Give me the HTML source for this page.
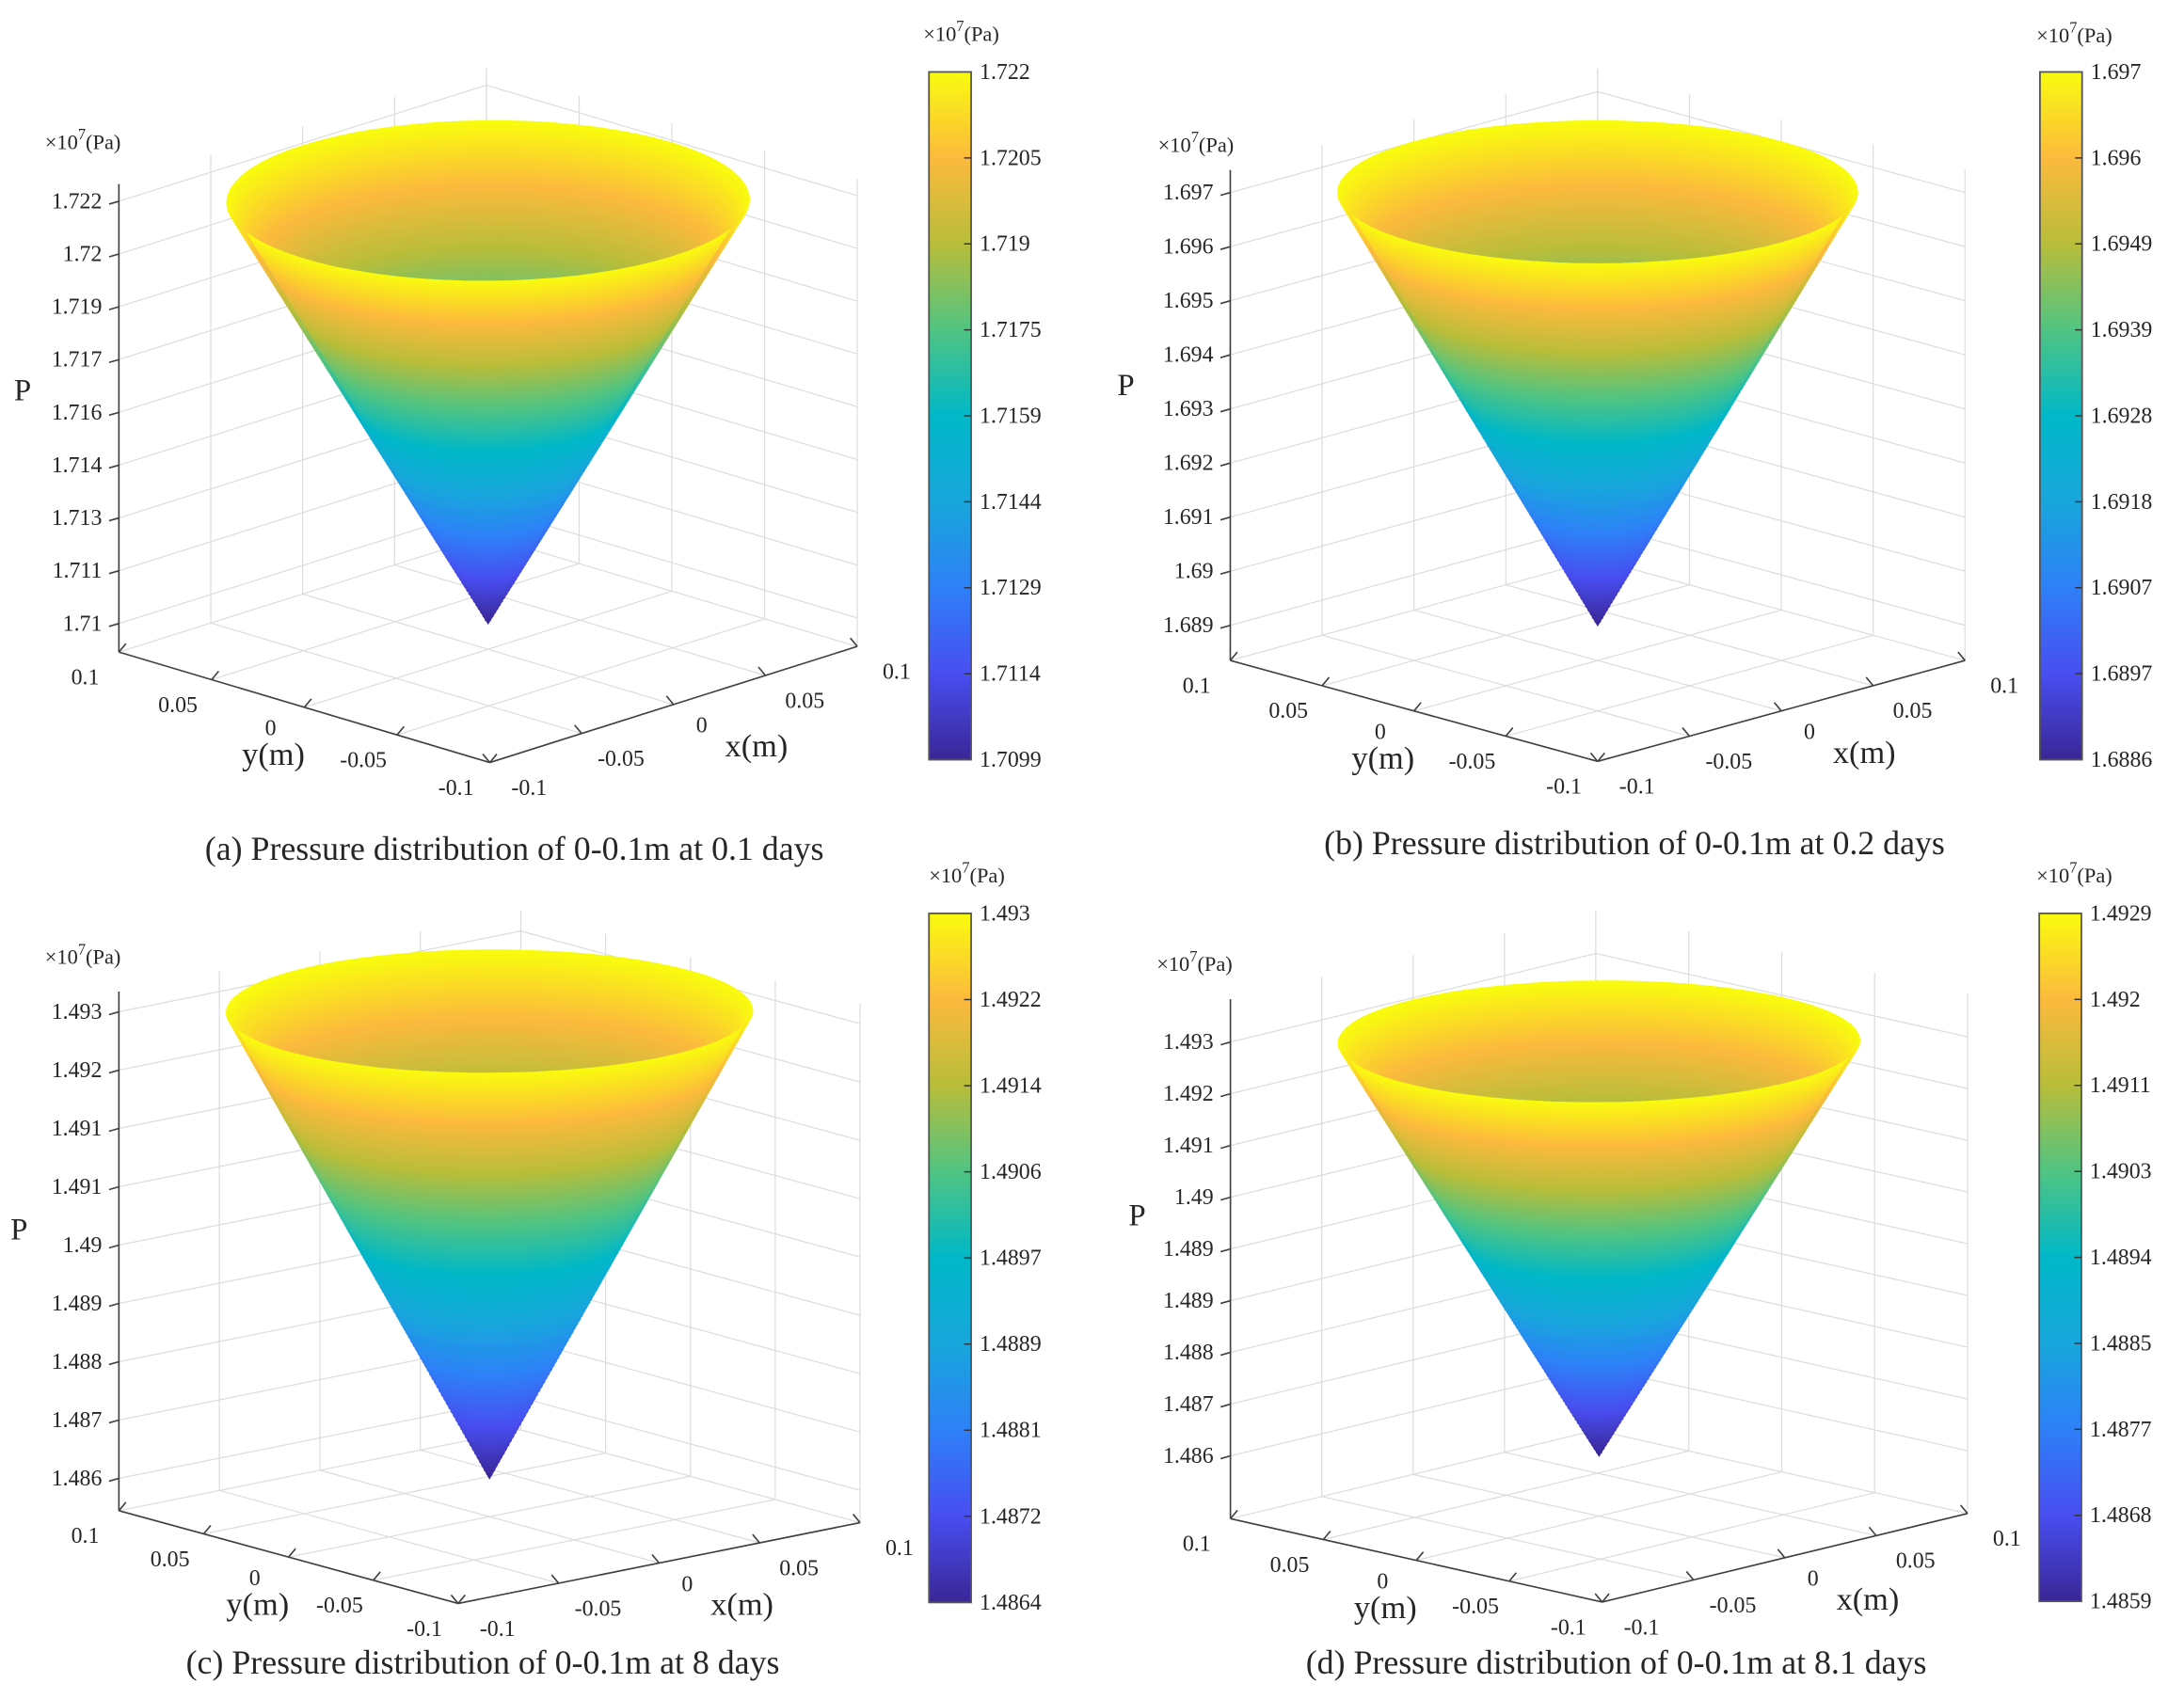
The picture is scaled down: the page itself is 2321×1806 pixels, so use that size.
<!DOCTYPE html>
<html>
<head>
<meta charset="utf-8">
<style>
html,body{margin:0;padding:0;background:#fff;}
svg{display:block;}
text{font-family:"Liberation Serif","Times New Roman",serif;fill:#262626;}
</style>
</head>
<body>
<svg id="fig" xmlns="http://www.w3.org/2000/svg" width="2321" height="1806" viewBox="0 0 1554 1209" preserveAspectRatio="none" font-family="Liberation Serif, serif"></svg>
<script>
// ---- data ----
const panelIds = ["a", "b", "c", "d"];
const captions = [
  "(a) Pressure distribution of 0-0.1m at 0.1 days",
  "(b) Pressure distribution of 0-0.1m at 0.2 days",
  "(c) Pressure distribution of 0-0.1m at 8 days",
  "(d) Pressure distribution of 0-0.1m at 8.1 days"
];
const pMaxA = 1.7220, pMinA = 1.7099;
const pMaxB = 1.6970, pMinB = 1.6886;
const pMaxC = 1.4930, pMinC = 1.4864;
const pMaxD = 1.4929, pMinD = 1.4859;
const zTickLabelsA = ["1.722","1.72","1.719","1.717","1.716","1.714","1.713","1.711","1.71"];
const zTickLabelsB = ["1.697","1.696","1.695","1.694","1.693","1.692","1.691","1.69","1.689"];
const zTickLabelsC = ["1.493","1.492","1.491","1.491","1.49","1.489","1.488","1.487","1.486"];
const zTickLabelsD = ["1.493","1.492","1.491","1.49","1.489","1.489","1.488","1.487","1.486"];
const cbTickLabelsA = ["1.722","1.7205","1.719","1.7175","1.7159","1.7144","1.7129","1.7114","1.7099"];
const cbTickLabelsB = ["1.697","1.696","1.6949","1.6939","1.6928","1.6918","1.6907","1.6897","1.6886"];
const cbTickLabelsC = ["1.493","1.4922","1.4914","1.4906","1.4897","1.4889","1.4881","1.4872","1.4864"];
const cbTickLabelsD = ["1.4929","1.492","1.4911","1.4903","1.4894","1.4885","1.4877","1.4868","1.4859"];
const xyTickValues = [-0.1, -0.05, 0, 0.05, 0.1];
const xyTickLabels = ["-0.1","-0.05","0","0.05","0.1"];
const coneRadius = 0.1;
const parulaStops = [
  [0.000,[58,38,150]],[0.125,[72,78,240]],[0.250,[46,128,248]],[0.375,[24,166,220]],
  [0.500,[0,184,200]],[0.625,[80,196,130]],[0.750,[184,189,58]],[0.875,[252,186,61]],[1.000,[249,251,14]]
];

// ---- layout (pixel geometry, not data) ----
const layout = [
  {L:[84.6,464],F:[348.5,542.6],R:[610,460],tTop:143.2,tBot:443.7,axTop:131,cbX:661,cbTop:51.2,cbBot:540.6,unitXY:[32,106],cbUnitXY:[657,29],pXY:[10,285],capX:366,capY:612},
  {L:[875.4,470],F:[1136.8,541.8],R:[1398.2,470],tTop:137,tBot:445,axTop:121,cbX:1451.5,cbTop:51.2,cbBot:540.6,unitXY:[824,108],cbUnitXY:[1449,30],pXY:[795,281],capX:1163,capY:608},
  {L:[84.6,1075],F:[326,1141],R:[612,1083.5],tTop:720,tBot:1052,axTop:705.6,cbX:661,cbTop:650,cbBot:1140.3,unitXY:[32,686],cbUnitXY:[661,628],pXY:[7.5,882],capX:343.5,capY:1191},
  {L:[875.5,1080.7],F:[1140,1140],R:[1400,1077],tTop:741.5,tBot:1036,axTop:711,cbX:1451,cbTop:650,cbBot:1139.5,unitXY:[823,691],cbUnitXY:[1449,628],pXY:[803,872],capX:1150,capY:1191}
];
const pMax = [pMaxA,pMaxB,pMaxC,pMaxD];
const pMin = [pMinA,pMinB,pMinC,pMinD];
const zLabels = [zTickLabelsA,zTickLabelsB,zTickLabelsC,zTickLabelsD];
const cbLabels = [cbTickLabelsA,cbTickLabelsB,cbTickLabelsC,cbTickLabelsD];

const NS = "http://www.w3.org/2000/svg";
const svg = document.getElementById("fig");
function mk(tag, attrs, parent){
  const e = document.createElementNS(NS, tag);
  for (const k in attrs) e.setAttribute(k, attrs[k]);
  (parent||svg).appendChild(e);
  return e;
}
function parula(f){
  f = Math.max(0, Math.min(1, f));
  for (let i=1;i<parulaStops.length;i++){
    const a=parulaStops[i-1], b=parulaStops[i];
    if (f<=b[0]){
      const t=(f-a[0])/(b[0]-a[0]);
      const c=a[1].map((v,j)=>Math.round(v+(b[1][j]-v)*t));
      return "rgb("+c.join(",")+")";
    }
  }
  return "rgb(249,251,14)";
}
const gridCol = "#dcdcdc", axisCol = "#404040";

panelIds.forEach((pid, pi) => {
  const g = layout[pi];
  const grp = mk("g", {});
  
  
  const lo = pMin[pi], hi = pMax[pi];
  const zToY = z => g.tBot + (z - lo) / (hi - lo) * (g.tTop - g.tBot);
  const floorY = g.L[1];
  const H = floorY - g.axTop;
  const ux = [(g.R[0]-g.F[0])/2, (g.R[1]-g.F[1])/2];
  const uy = [(g.L[0]-g.F[0])/2, (g.L[1]-g.F[1])/2];
  const C = [(g.L[0]+g.R[0])/2, (g.L[1]+g.R[1])/2];
  const proj = (x, y, dz) => [C[0] + x/0.1*ux[0] + y/0.1*uy[0], C[1] + x/0.1*ux[1] + y/0.1*uy[1] - dz];
  // cone levels are anchored at the floor centre, raised by z
  const projCone = (x, y, z) => { const p = proj(x, y, 0); return [p[0], p[1] - (C[1] - zToY(z))]; };

  // grid
  const gridG = mk("g", {stroke:gridCol, "stroke-width":0.8, fill:"none"}, grp);
  
  
  xyTickValues.forEach(v => {
    const a = proj(v, -0.1, 0), b = proj(v, 0.1, 0);
    const l1 = mk("line", {x1:a[0],y1:a[1],x2:b[0],y2:b[1]}, gridG);
    
    
    const c = proj(-0.1, v, 0), d = proj(0.1, v, 0);
    const l2 = mk("line", {x1:c[0],y1:c[1],x2:d[0],y2:d[1]}, gridG);
    
    
    const e = proj(v, 0.1, 0), f = proj(v, 0.1, H);
    const l3 = mk("line", {x1:e[0],y1:e[1],x2:f[0],y2:f[1]}, gridG);
    
    
    const h1 = proj(0.1, v, 0), h2 = proj(0.1, v, H);
    const l4 = mk("line", {x1:h1[0],y1:h1[1],x2:h2[0],y2:h2[1]}, gridG);
    
    
  });
  const nT = zLabels[pi].length;
  for (let i=0;i<nT;i++){
    const z = hi - i*(hi-lo)/(nT-1);
    const dz = floorY - zToY(z);
    const a = proj(-0.1, 0.1, dz), b = proj(0.1, 0.1, dz), c = proj(0.1, -0.1, dz);
    const pl = mk("polyline", {points:[a,b,c].map(p=>p.join(",")).join(" ")}, gridG);
    
    
  }

  // cone surface
  const coneG = mk("g", {}, grp);
  
  
  const N = 110, M = 72;
  const levelZ = t => hi - t*(hi-lo);
  // interior (far wall) as nested slices
  for (let k=0;k<=N;k++){
    const t = k/N;
    const r = coneRadius*(1-t);
    const z = levelZ(t);
    let pts = [];
    for (let m=0;m<M;m++){
      const th = 2*Math.PI*m/M;
      const p = projCone(r*Math.cos(th), r*Math.sin(th), z);
      pts.push(p[0].toFixed(1)+","+p[1].toFixed(1));
    }
    const col = parula((z-lo)/(hi-lo));
    const poly = mk("polygon", {points:pts.join(" "), fill:col, stroke:col, "stroke-width":1.2}, coneG);
    
    
  }
  // exterior front wall bands
  let th0 = Math.atan2(uy[0], ux[0]);
  const midA = proj(Math.cos(th0+Math.PI/2)*0.1, Math.sin(th0+Math.PI/2)*0.1, 0)[1];
  const midB = proj(Math.cos(th0-Math.PI/2)*0.1, Math.sin(th0-Math.PI/2)*0.1, 0)[1];
  const dir = midA > midB ? 1 : -1;
  const arc = (t) => {
    const r = coneRadius*(1-t), z = levelZ(t), out = [];
    for (let m=0;m<=36;m++){
      const th = th0 + dir*Math.PI*m/36;
      out.push(projCone(r*Math.cos(th), r*Math.sin(th), z));
    }
    return out;
  };
  for (let k=0;k<N;k++){
    const t1 = k/N, t2 = (k+1)/N;
    const a1 = arc(t1), a2 = arc(t2).reverse();
    const pts = a1.concat(a2).map(p=>p[0].toFixed(1)+","+p[1].toFixed(1)).join(" ");
    const z = levelZ((t1+t2)/2);
    const col = parula((z-lo)/(hi-lo));
    const band = mk("polygon", {points:pts, fill:col, stroke:col, "stroke-width":0.9}, coneG);
    
    
  }

  // axes
  const axG = mk("g", {stroke:axisCol, "stroke-width":1.1, fill:"none"}, grp);
  
  
  const zAx = mk("line", {x1:g.L[0],y1:floorY,x2:g.L[0],y2:g.axTop}, axG);
  
  
  const yAx = mk("line", {x1:g.L[0],y1:g.L[1],x2:g.F[0],y2:g.F[1]}, axG);
  
  
  const xAx = mk("line", {x1:g.F[0],y1:g.F[1],x2:g.R[0],y2:g.R[1]}, axG);
  
  

  for (let i=0;i<nT;i++){
    const z = hi - i*(hi-lo)/(nT-1);
    const y = zToY(z);
    const tk = mk("line", {x1:g.L[0],y1:y,x2:g.L[0]-7,y2:y+2}, axG);
    
    
    const tx = mk("text", {x:g.L[0]-12, y:y+5, "font-size":16, "text-anchor":"end"}, grp);
    tx.textContent = zLabels[pi][i];
    
    
  }
  xyTickValues.forEach((v, i) => {
    const py = proj(-0.1, v, 0);
    const t1 = mk("line", {x1:py[0],y1:py[1],x2:py[0]+5,y2:py[1]-6}, axG);
    
    
    const ly = mk("text", {x:py[0]-24, y:py[1]+(v===0?20:23), "font-size":16, "text-anchor":"middle"}, grp);
    ly.textContent = xyTickLabels[i];
    
    
    const px = proj(v, -0.1, 0);
    const t2 = mk("line", {x1:px[0],y1:px[1],x2:px[0]-5,y2:px[1]-6}, axG);
    
    
    const lx = mk("text", {x:px[0]+(v===0?20:28), y:px[1]+(v===0?20:23), "font-size":16, "text-anchor":"middle"}, grp);
    lx.textContent = xyTickLabels[i];
    
    
  });
  const yMid = proj(-0.1, 0, 0), xMid = proj(0, -0.1, 0);
  const yT = mk("text", {x:yMid[0]-22, y:yMid[1]+41, "font-size":23, "text-anchor":"middle"}, grp);
  yT.textContent = "y(m)";
  
  
  const xT = mk("text", {x:xMid[0]+59, y:xMid[1]+37, "font-size":23, "text-anchor":"middle"}, grp);
  xT.textContent = "x(m)";
  
  
  const pT = mk("text", {x:g.pXY[0], y:g.pXY[1], "font-size":22}, grp);
  pT.textContent = "P";
  
  
  const uT = mk("text", {x:g.unitXY[0], y:g.unitXY[1], "font-size":15}, grp);
  uT.innerHTML = '×10<tspan dy="-7" font-size="11">7</tspan><tspan dy="7">(Pa)</tspan>';
  
  

  // colorbar
  const cbG = mk("g", {}, grp);
  
  
  const gradId = "grad" + pid;
  const defs = mk("defs", {}, cbG);
  const lg = mk("linearGradient", {id:gradId, x1:0, y1:1, x2:0, y2:0}, defs);
  parulaStops.forEach(s => { mk("stop", {offset:s[0], "stop-color":"rgb("+s[1].join(",")+")"}, lg); });
  const cbW = 30;
  const cbR = mk("rect", {x:g.cbX, y:g.cbTop, width:cbW, height:g.cbBot-g.cbTop, fill:"url(#"+gradId+")", stroke:"#555", "stroke-width":1.2}, cbG);
  
  
  const nC = cbLabels[pi].length;
  for (let i=0;i<nC;i++){
    const y = g.cbTop + i*(g.cbBot-g.cbTop)/(nC-1);
    if (i>0 && i<nC-1){
      const tk = mk("line", {x1:g.cbX+cbW, y1:y, x2:g.cbX+cbW-5, y2:y, stroke:"#333", "stroke-width":1}, cbG);
      
      
    }
    const tx = mk("text", {x:g.cbX+cbW+6, y:y+5, "font-size":16}, cbG);
    tx.textContent = cbLabels[pi][i];
    
    
  }
  const cu = mk("text", {x:g.cbUnitXY[0], y:g.cbUnitXY[1], "font-size":15}, cbG);
  cu.innerHTML = '×10<tspan dy="-7" font-size="11">7</tspan><tspan dy="7">(Pa)</tspan>';
  
  

  const cap = mk("text", {x:g.capX, y:g.capY, "font-size":24, "text-anchor":"middle", fill:"#111"}, grp);
  cap.textContent = captions[pi];
  
  
});
</script>
</body>
</html>
